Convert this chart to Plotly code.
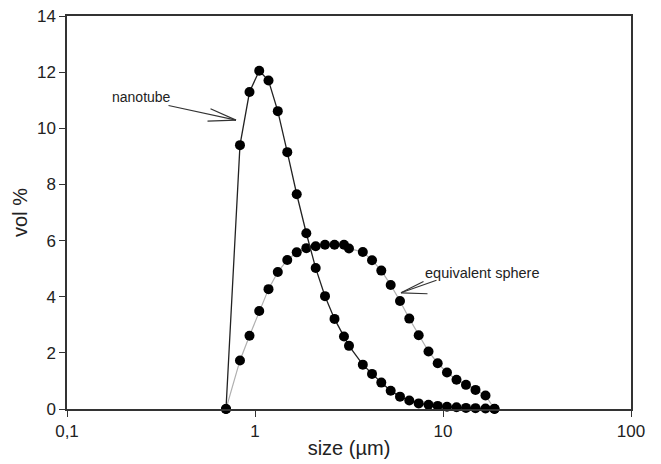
import plotly.graph_objects as go

size_um = [0.701, 0.832, 0.935, 1.053, 1.180, 1.322, 1.485, 1.667, 1.875, 2.103,
           2.357, 2.648, 2.974, 3.162, 3.745, 4.193, 4.697, 5.270, 5.905, 6.617,
           7.425, 8.374, 9.372, 10.50, 11.80, 13.25, 14.89, 16.83, 18.79]
nanotube = [0.0, 9.40, 11.29, 12.05, 11.70, 10.61, 9.15, 7.65, 6.26, 5.02,
            4.02, 3.21, 2.58, 2.25, 1.58, 1.25, 0.94, 0.65, 0.44, 0.30,
            0.20, 0.15, 0.11, 0.08, 0.06, 0.04, 0.03, 0.02, 0.01]
sphere = [0.0, 1.73, 2.61, 3.49, 4.27, 4.88, 5.31, 5.58, 5.73, 5.80,
          5.85, 5.85, 5.85, 5.72, 5.59, 5.30, 4.93, 4.42, 3.85, 3.22,
          2.63, 2.05, 1.63, 1.30, 1.04, 0.86, 0.68, 0.48, 0.0]

x_tickvals = [0.1, 1, 10, 100]
x_ticktext = ["0,1", "1", "10", "100"]
y_tickvals = [0, 2, 4, 6, 8, 10, 12, 14]

FONT = "Liberation Sans, Arial, sans-serif"

fig = go.Figure()
fig.add_trace(go.Scatter(
    x=size_um, y=sphere, mode="lines+markers", name="equivalent sphere",
    line=dict(color="#b0b0b0", width=1.2),
    marker=dict(color="black", size=10), cliponaxis=False))
fig.add_trace(go.Scatter(
    x=size_um, y=nanotube, mode="lines+markers", name="nanotube",
    line=dict(color="#222222", width=1.3),
    marker=dict(color="black", size=10), cliponaxis=False))

# annotations (x in log10 units for log axis)
anns = []
anns.append(dict(x=-0.604, y=11.11, xref="x", yref="y", text="nanotube",
                 showarrow=False, font=dict(family=FONT, size=14, color="#222")))
tip_n = (-0.101, 10.29)
for ax, ay in [(-69, -15), (-27, -12), (-30, 1)]:
    anns.append(dict(x=tip_n[0], y=tip_n[1], xref="x", yref="y", text="",
                     showarrow=True, arrowhead=0, arrowwidth=1.2, arrowcolor="#333",
                     ax=ax, ay=ay, standoff=0, startstandoff=0))
anns.append(dict(x=1.210, y=4.86, xref="x", yref="y", text="equivalent sphere",
                 showarrow=False, font=dict(family=FONT, size=14.5, color="#222")))
tip_s = (0.7766, 4.14)
for ax, ay in [(37, -13), (24, -12), (28, 1)]:
    anns.append(dict(x=tip_s[0], y=tip_s[1], xref="x", yref="y", text="",
                     showarrow=True, arrowhead=0, arrowwidth=1.2, arrowcolor="#333",
                     ax=ax, ay=ay, standoff=0, startstandoff=0))

fig.update_layout(
    width=661, height=464,
    margin=dict(l=67, r=30, t=16, b=55),
    paper_bgcolor="white", plot_bgcolor="white",
    showlegend=False,
    font=dict(family=FONT, size=17, color="#222"),
    annotations=anns,
    xaxis=dict(type="log", range=[-1, 2], tickvals=x_tickvals, ticktext=x_ticktext,
               showgrid=False, zeroline=False, showline=True, linecolor="#333",
               linewidth=1.5, mirror=True, ticks="outside", ticklen=6, tickwidth=1.3,
               tickcolor="#333", tickfont=dict(size=17), automargin=False,
               title=dict(text="size (µm)", font=dict(size=20), standoff=1)),
    yaxis=dict(range=[0, 14], tickvals=y_tickvals, showgrid=False, zeroline=False,
               showline=True, linecolor="#333", linewidth=1.5, mirror=True,
               ticks="outside", ticklen=6, tickwidth=1.3, tickcolor="#333",
               tickfont=dict(size=17), automargin=False,
               title=dict(text="vol %", font=dict(size=20), standoff=4)),
)

fig.write_html("out.html")
